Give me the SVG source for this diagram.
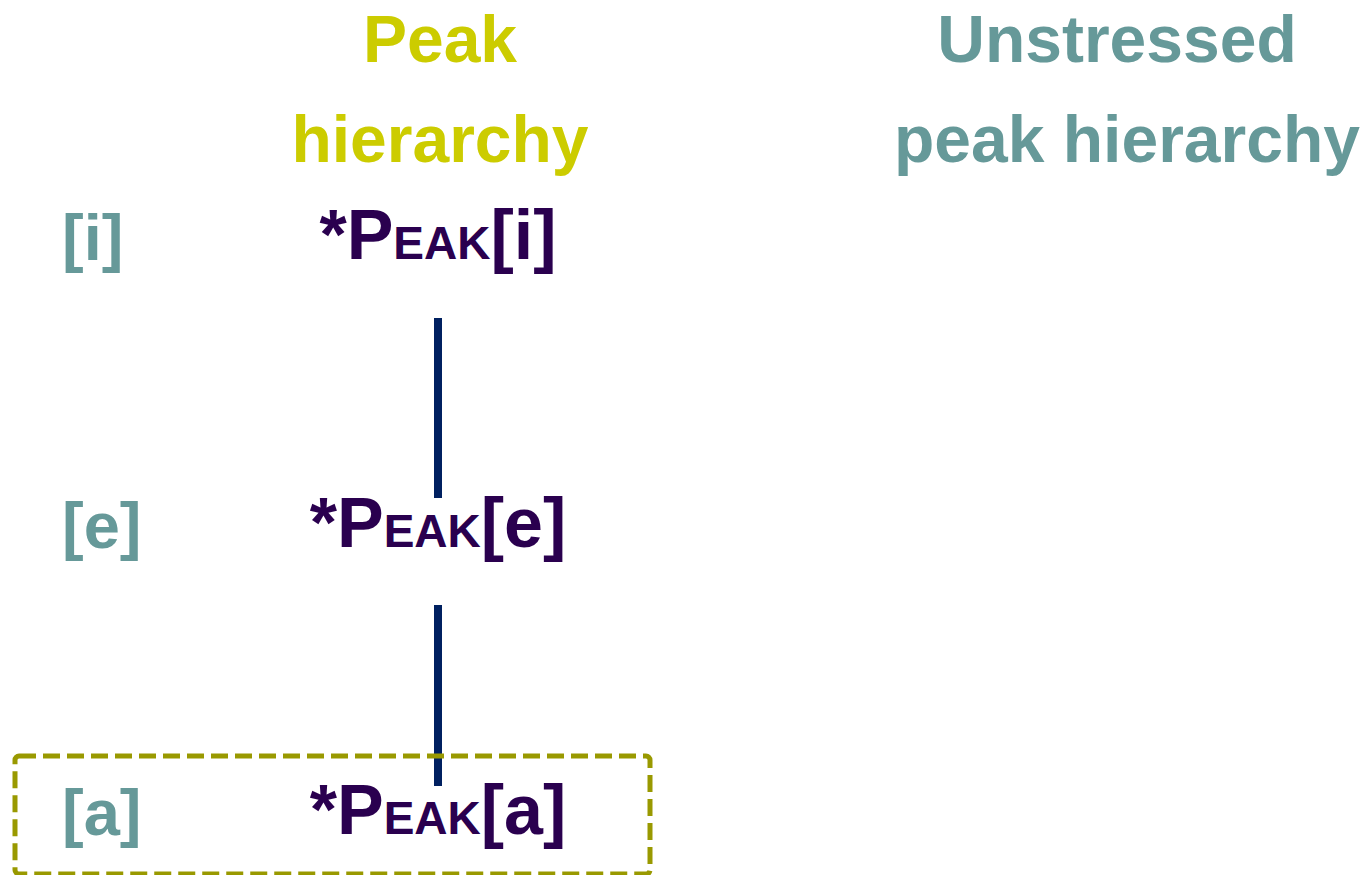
<svg xmlns="http://www.w3.org/2000/svg" width="1366" height="875" viewBox="0 0 1366 875">
  <style>
    text { font-family: "Liberation Sans", Arial, sans-serif; font-weight: bold; }
    .head-peak { fill: #CCCC00; font-size: 66px; text-anchor: middle; }
    .head-unst { fill: #669999; font-size: 66px; text-anchor: middle; }
    .vowel { fill: #669999; font-size: 65px; }
    .constraint { fill: #2A004F; font-size: 70px; text-anchor: middle; }
    .sc { font-size: 46px; }
    .link { stroke: #002060; stroke-width: 8; fill: none; }
    .focus { stroke: #999900; stroke-width: 5; fill: none; stroke-dasharray: 17 7; }
  </style>

  <!-- column headings -->
  <g id="heading-peak">
    <text class="head-peak" x="440" y="62">Peak</text>
    <text class="head-peak" x="440" y="162">hierarchy</text>
  </g>
  <g id="heading-unstressed">
    <text class="head-unst" x="1117" y="62">Unstressed</text>
    <text class="head-unst" x="1127" y="162">peak hierarchy</text>
  </g>

  <!-- connectors between constraint ranks -->
  <g id="connectors">
    <line class="link" x1="438" y1="318" x2="438" y2="498"/>
    <line class="link" x1="438" y1="605" x2="438" y2="786"/>
  </g>

  <!-- highlight around the lowest rank -->
  <g id="highlight-a">
    <rect class="focus" x="15" y="756" width="635" height="118" rx="4"/>
  </g>

  <g id="row-i">
    <text class="vowel" x="62" y="260">[i]</text>
    <text class="constraint" x="438" y="259">*P<tspan class="sc">EAK</tspan>[i]</text>
  </g>
  <g id="row-e">
    <text class="vowel" x="62" y="548">[e]</text>
    <text class="constraint" x="438" y="547">*P<tspan class="sc">EAK</tspan>[e]</text>
  </g>
  <g id="row-a">
    <text class="vowel" x="62" y="835">[a]</text>
    <text class="constraint" x="438" y="834">*P<tspan class="sc">EAK</tspan>[a]</text>
  </g>
</svg>
